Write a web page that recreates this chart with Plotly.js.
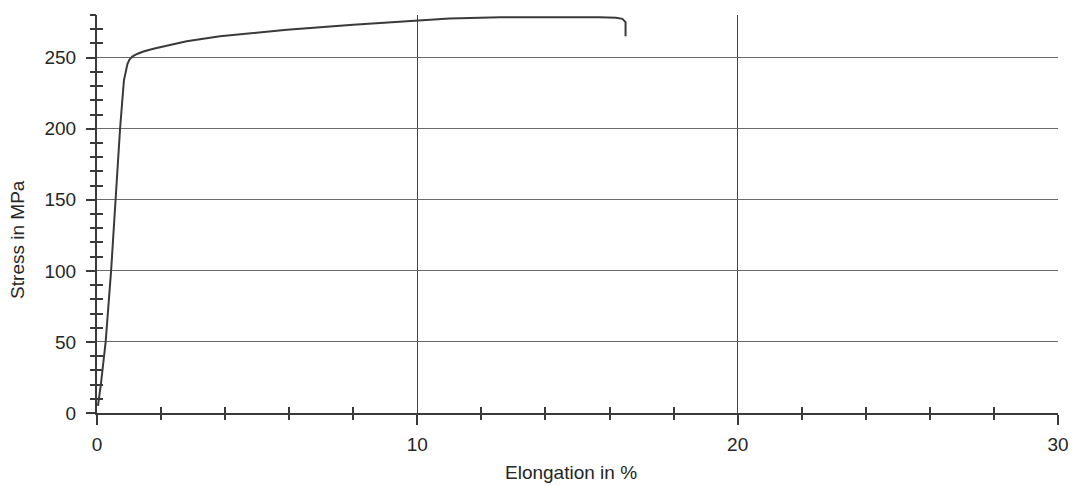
<!DOCTYPE html>
<html>
<head>
<meta charset="utf-8">
<script src="https://cdn.plot.ly/plotly-3.0.1.min.js"></script>
<style>html,body{margin:0;padding:0;background:#fff;}#chart{width:1077px;height:486px;}</style>
</head>
<body>
<div id="chart"></div>
<script>
// Elongation (%) and stress (MPa)
var elongation = [0.03, 0.12, 0.27, 0.44, 0.58, 0.72, 0.84, 0.9, 0.95, 1.01, 1.1, 1.25, 1.45, 1.76, 2.8, 3.84, 5.93, 8.0, 9.5, 10.1, 11.0, 12.6, 14.0, 15.7, 16.2, 16.4, 16.5, 16.5];
var stress     = [5, 20, 50, 100, 150, 200, 234, 241, 245.5, 248.5, 250.8, 252.6, 254.3, 256.3, 261.5, 265, 269.7, 273.2, 275.3, 276.2, 277.5, 278.4, 278.6, 278.4, 278.1, 277.3, 275, 265];
var xTicks = [0, 10, 20, 30];
var xMinorTicks = [2, 4, 6, 8, 12, 14, 16, 18, 22, 24, 26, 28];
var yTicks = [0, 50, 100, 150, 200, 250];
var yMinorTicks = [10, 20, 30, 40, 60, 70, 80, 90, 110, 120, 130, 140, 160, 170, 180, 190, 210, 220, 230, 240, 260, 270, 280];
var xTitle = 'Elongation in %';
var yTitle = 'Stress in MPa';

var font = {family: 'Liberation Sans, Arial, sans-serif', size: 19, color: '#262626'};
var tickColor = '#3a3a3a';

function minorAxis(letter, anchor, vals, dir, range) {
  return {
    overlaying: letter, anchor: anchor, side: letter === 'x' ? 'bottom' : 'left', range: range,
    tickvals: vals, ticks: dir, ticklen: 6, tickwidth: 2, tickcolor: tickColor,
    showticklabels: false, showgrid: false, zeroline: false, showline: false, fixedrange: true
  };
}

var traces = [
  {x: elongation, y: stress, type: 'scatter', mode: 'lines',
   line: {color: '#3a3a3a', width: 2}, hoverinfo: 'skip', showlegend: false},
  {x: [], y: [], xaxis: 'x2', yaxis: 'y2', type: 'scatter', mode: 'lines', showlegend: false, hoverinfo: 'skip'},
  {x: [], y: [], xaxis: 'x3', yaxis: 'y3', type: 'scatter', mode: 'lines', showlegend: false, hoverinfo: 'skip'}
];

var xr = [0, 30], yr = [0, 280];
var layout = {
  width: 1077, height: 486,
  margin: {l: 97, r: 19, t: 15, b: 73, pad: 0},
  paper_bgcolor: '#fff', plot_bgcolor: '#fff',
  font: font,
  showlegend: false,
  xaxis: {
    range: xr, tickvals: xTicks, ticktext: xTicks.map(String),
    ticks: 'outside', ticklen: 10, tickwidth: 2, tickcolor: tickColor,
    showgrid: true, gridcolor: '#444', gridwidth: 1,
    showline: true, linecolor: '#3a3a3a', linewidth: 2,
    zeroline: false, fixedrange: true, ticklabelstandoff: 3
  },
  yaxis: {
    range: yr, tickvals: yTicks, ticktext: yTicks.map(String),
    ticks: 'outside', ticklen: 9, tickwidth: 2, tickcolor: tickColor,
    showgrid: true, gridcolor: '#6a6a6a', gridwidth: 1,
    showline: true, linecolor: '#3a3a3a', linewidth: 2,
    zeroline: false, fixedrange: true, ticklabelstandoff: 6
  },
  xaxis2: minorAxis('x', 'y2', xMinorTicks, 'outside', xr),
  yaxis2: minorAxis('y', 'x2', yMinorTicks, 'outside', yr),
  xaxis3: minorAxis('x', 'y3', xMinorTicks, 'inside', xr),
  yaxis3: minorAxis('y', 'x3', yMinorTicks, 'inside', yr),
  annotations: [
    {text: xTitle, xref: 'paper', yref: 'paper', x: 0.4935, y: -0.15, xanchor: 'center', yanchor: 'middle', showarrow: false, font: font},
    {text: yTitle, xref: 'paper', yref: 'paper', x: -0.0822, y: 0.435, xanchor: 'center', yanchor: 'middle', textangle: -90, showarrow: false, font: font}
  ]
};

Plotly.newPlot('chart', traces, layout, {displayModeBar: false, staticPlot: true});
</script>
</body>
</html>
